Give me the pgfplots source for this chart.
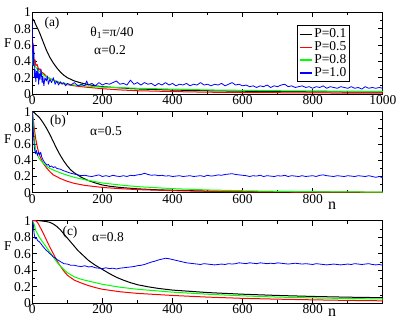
\documentclass[border=0pt]{standalone}
\usepackage{fontspec}
\setmainfont{Liberation Serif}
\usepackage{pgfplots}
\pgfplotsset{compat=1.18}

\definecolor{pgreen}{RGB}{0,255,0}

\pgfplotsset{
  panel/.style={
    scale only axis, width=350.5pt,
    xmin=0, xmax=1000, ymin=0, ymax=1,
    ytick={0,0.2,0.4,0.6,0.8,1},
    minor xtick={100,300,500,700,900},
    minor ytick={0.1,0.3,0.5,0.7,0.9},
    tick align=inside, major tick length=5pt, minor tick length=3pt,
    axis line style={line width=0.9pt},
    every tick/.style={line width=0.7pt, black},
    /pgf/number format/assume math mode=true,
    /pgf/number format/1000 sep={},
    tick label style={font=\fontsize{13.5}{13.5}\selectfont},
    xticklabel style={inner sep=1.5pt},
    yticklabel style={inner sep=1.2pt},
    clip mode=individual,
    every axis plot/.append style={line width=1pt, line join=round},
  },
}
\tikzset{txt/.style={font=\fontsize{13.5}{13.5}\selectfont, inner sep=0pt}}

\begin{document}
\begin{tikzpicture}
\useasboundingbox (0pt,0pt) rectangle (415pt,321pt);

% ---- (a)
\begin{axis}[panel, height=81.5pt, at={(32.3pt,227pt)}, anchor=south west,
  xtick={0,200,400,600,800,1000},
  legend style={at={(0.756,0.846)}, anchor=north west, draw=black, line width=0.7pt,
    fill=white, font=\fontsize{13.5}{13.5}\selectfont, inner sep=1.5pt, row sep=-1.5pt,
    cells={anchor=west}},
  legend image code/.code={\draw[#1, line width=1.2pt] (0pt,0pt) -- (12pt,0pt);},
]
\addplot[black] coordinates {
(0,0.93)(5,0.9)(10,0.85)(20,0.76)(30,0.65)(40,0.54)(50,0.45)(60,0.38)(70,0.32)
(80,0.27)(90,0.23)(100,0.2)(120,0.16)(140,0.135)(160,0.115)(180,0.1)(200,0.09)
(250,0.075)(300,0.062)(400,0.048)(500,0.04)(600,0.034)(700,0.03)(800,0.027)
(900,0.024)(1000,0.022)};
\addplot[red] coordinates {
(0,0.4)(2,0.62)(4,0.45)(6,0.38)(8,0.42)(10,0.35)(14,0.36)(18,0.3)(22,0.31)
(26,0.27)(30,0.26)(35,0.24)(40,0.22)(50,0.19)(60,0.17)(70,0.15)(80,0.135)
(100,0.115)(120,0.1)(150,0.085)(200,0.065)(250,0.05)(300,0.04)(400,0.03)
(500,0.022)(600,0.018)(800,0.013)(1000,0.01)};
\addplot[pgreen] coordinates {
(0,0.35)(2,0.5)(4,0.4)(6,0.34)(10,0.33)(15,0.3)(20,0.28)(30,0.24)(40,0.21)
(50,0.19)(60,0.17)(80,0.14)(100,0.12)(120,0.11)(150,0.1)(200,0.085)(300,0.07)
(400,0.06)(500,0.05)(600,0.045)(700,0.04)(800,0.038)(900,0.035)(1000,0.032)};
\addplot[blue, line width=0.8pt] coordinates {
(0,0.9)(2,0.35)(4,0.6)(6,0.2)(8,0.3)(10,0.15)(12,0.28)(14,0.2)(16,0.32)(18,0.12)
(20,0.25)(22,0.18)(25,0.3)(28,0.14)(30,0.22)(33,0.1)(36,0.2)(40,0.16)(43,0.22)
(46,0.12)(50,0.18)(55,0.14)(60,0.2)(65,0.12)(70,0.16)(75,0.11)(80,0.15)(85,0.12)
(90,0.14)(95,0.1)(100,0.13)(110,0.11)(120,0.14)(130,0.1)(140,0.12)(150,0.1)
(155,0.16)(160,0.11)(170,0.13)(180,0.1)(190,0.14)(200,0.11)(210,0.13)(220,0.12)
(230,0.14)(240,0.16)(250,0.12)(260,0.13)(270,0.11)(280,0.17)(290,0.12)(300,0.14)
(310,0.11)(320,0.14)(330,0.12)(340,0.13)(350,0.1)(360,0.13)(370,0.11)(380,0.14)
(390,0.11)(400,0.13)(410,0.1)(420,0.12)(430,0.11)(440,0.13)(450,0.1)(460,0.12)
(470,0.11)(480,0.14)(490,0.11)(500,0.12)(510,0.1)(520,0.12)(530,0.11)(540,0.13)
(550,0.1)(560,0.12)(570,0.14)(580,0.11)(590,0.12)(600,0.1)(610,0.11)(620,0.09)
(630,0.1)(640,0.08)(650,0.1)(660,0.09)(670,0.11)(680,0.08)(690,0.1)(700,0.09)
(710,0.11)(720,0.12)(730,0.09)(740,0.1)(750,0.08)(760,0.09)(770,0.1)(780,0.08)
(790,0.09)(800,0.07)(810,0.09)(820,0.08)(830,0.1)(840,0.07)(850,0.09)(860,0.08)
(870,0.07)(880,0.09)(890,0.08)(900,0.07)(910,0.09)(920,0.07)(930,0.08)(940,0.06)
(950,0.09)(960,0.07)(970,0.08)(980,0.07)(990,0.08)(1000,0.07)};
\legend{P=0.1,P=0.5,P=0.8,P=1.0}
\end{axis}

% ---- (b)
\begin{axis}[panel, height=81pt, at={(32.3pt,128.3pt)}, anchor=south west,
  xtick={0,200,400,600,800},
]
\addplot[black] coordinates {
(0,1)(5,0.99)(10,0.97)(20,0.93)(30,0.87)(40,0.8)(50,0.72)(60,0.63)(70,0.54)
(80,0.46)(90,0.39)(100,0.33)(110,0.28)(120,0.245)(140,0.19)(160,0.15)(180,0.12)
(200,0.095)(220,0.08)(250,0.065)(300,0.048)(350,0.037)(400,0.03)(500,0.02)
(600,0.013)(700,0.009)(800,0.006)(1000,0.004)};
\addplot[red] coordinates {
(0,1)(3,0.9)(6,0.78)(10,0.66)(15,0.55)(20,0.47)(30,0.37)(40,0.31)(50,0.26)
(60,0.22)(80,0.175)(100,0.14)(120,0.115)(150,0.09)(200,0.065)(250,0.05)
(300,0.038)(400,0.025)(500,0.017)(600,0.012)(800,0.007)(1000,0.005)};
\addplot[pgreen] coordinates {
(0,1)(3,0.85)(6,0.65)(10,0.52)(15,0.46)(20,0.42)(30,0.37)(40,0.33)(50,0.3)
(60,0.28)(80,0.245)(100,0.215)(120,0.19)(150,0.16)(200,0.12)(250,0.095)
(300,0.075)(400,0.05)(500,0.034)(600,0.024)(700,0.017)(800,0.012)(1000,0.007)};
\addplot[blue, line width=0.8pt] coordinates {
(0,1)(3,0.75)(6,0.55)(9,0.48)(12,0.52)(15,0.46)(18,0.5)(21,0.47)(24,0.5)(27,0.44)
(30,0.41)(34,0.38)(38,0.36)(42,0.34)(46,0.35)(50,0.32)(55,0.33)(60,0.31)(65,0.32)
(70,0.3)(80,0.29)(90,0.27)(100,0.255)(110,0.24)(120,0.23)(130,0.22)(140,0.21)
(150,0.215)(160,0.205)(170,0.2)(180,0.21)(190,0.22)(200,0.2)(210,0.21)(220,0.2)
(230,0.215)(240,0.205)(250,0.2)(260,0.21)(270,0.2)(280,0.215)(290,0.21)(300,0.22)
(310,0.225)(320,0.24)(330,0.225)(340,0.215)(350,0.22)(360,0.21)(370,0.215)
(380,0.205)(390,0.21)(400,0.2)(410,0.205)(420,0.21)(430,0.2)(440,0.205)(450,0.21)
(460,0.2)(470,0.205)(480,0.21)(490,0.2)(500,0.215)(510,0.205)(520,0.21)(530,0.22)
(540,0.215)(550,0.225)(560,0.23)(570,0.235)(580,0.225)(590,0.22)(600,0.215)
(610,0.21)(620,0.2)(630,0.21)(640,0.205)(650,0.215)(660,0.2)(670,0.21)(680,0.205)
(690,0.2)(700,0.21)(710,0.205)(720,0.215)(730,0.2)(740,0.21)(750,0.205)(760,0.2)
(770,0.21)(780,0.2)(790,0.205)(800,0.21)(810,0.2)(820,0.215)(830,0.22)(840,0.21)
(850,0.205)(860,0.2)(870,0.21)(880,0.205)(890,0.2)(900,0.21)(910,0.205)(920,0.2)
(930,0.21)(940,0.205)(950,0.2)(960,0.21)(970,0.2)(980,0.19)(990,0.2)(1000,0.185)};
\end{axis}

% ---- (c)
\begin{axis}[panel, height=82.6pt, at={(32.3pt,17.7pt)}, anchor=south west,
  xtick={0,200,400,600,800},
]
\addplot[black] coordinates {
(0,1)(20,1)(40,0.99)(50,0.98)(60,0.96)(70,0.93)(80,0.89)(90,0.84)(100,0.79)
(110,0.74)(120,0.69)(130,0.64)(140,0.6)(150,0.56)(160,0.52)(180,0.46)(200,0.41)
(220,0.36)(240,0.315)(260,0.28)(280,0.25)(300,0.225)(330,0.2)(360,0.18)(400,0.16)
(450,0.145)(500,0.13)(550,0.12)(600,0.11)(700,0.095)(800,0.083)(900,0.074)
(1000,0.068)};
\addplot[red] coordinates {
(0,1)(10,1)(15,0.98)(20,0.94)(30,0.86)(40,0.77)(50,0.68)(60,0.6)(70,0.52)
(80,0.45)(90,0.39)(100,0.34)(120,0.28)(140,0.245)(160,0.215)(180,0.19)(200,0.17)
(250,0.14)(300,0.12)(400,0.095)(500,0.075)(600,0.06)(700,0.05)(800,0.042)
(900,0.035)(1000,0.03)};
\addplot[pgreen] coordinates {
(0,1)(5,0.96)(10,0.88)(15,0.84)(20,0.8)(30,0.74)(40,0.68)(50,0.62)(60,0.56)
(70,0.5)(80,0.45)(90,0.41)(100,0.37)(120,0.32)(140,0.29)(160,0.27)(180,0.25)
(200,0.23)(250,0.195)(300,0.17)(400,0.135)(500,0.11)(600,0.09)(700,0.075)
(800,0.065)(900,0.058)(1000,0.052)};
\addplot[blue, line width=0.8pt] coordinates {
(0,1)(3,0.95)(5,0.85)(8,0.78)(12,0.79)(15,0.76)(20,0.745)(25,0.72)(30,0.69)
(35,0.665)(40,0.64)(45,0.625)(50,0.6)(55,0.585)(60,0.56)(65,0.55)(70,0.53)
(75,0.52)(80,0.505)(90,0.48)(100,0.475)(110,0.46)(120,0.46)(130,0.45)(140,0.445)
(150,0.455)(160,0.44)(170,0.445)(180,0.43)(190,0.425)(200,0.42)(210,0.43)
(220,0.42)(230,0.425)(240,0.415)(250,0.425)(260,0.43)(270,0.435)(280,0.44)
(290,0.445)(300,0.455)(310,0.46)(320,0.47)(330,0.485)(340,0.5)(350,0.51)
(360,0.525)(370,0.535)(380,0.545)(390,0.54)(400,0.53)(410,0.52)(420,0.51)
(430,0.5)(440,0.49)(450,0.485)(460,0.48)(470,0.475)(480,0.47)(490,0.48)(500,0.475)
(510,0.47)(520,0.465)(530,0.47)(540,0.475)(550,0.47)(560,0.48)(570,0.475)
(580,0.48)(590,0.49)(600,0.485)(610,0.48)(620,0.49)(630,0.485)(640,0.48)(650,0.49)
(660,0.485)(670,0.48)(680,0.485)(690,0.48)(700,0.49)(710,0.485)(720,0.48)
(730,0.475)(740,0.48)(750,0.485)(760,0.48)(770,0.475)(780,0.48)(790,0.475)
(800,0.47)(810,0.48)(820,0.475)(830,0.47)(840,0.465)(850,0.47)(860,0.475)
(870,0.47)(880,0.465)(890,0.47)(900,0.475)(910,0.47)(920,0.48)(930,0.475)
(940,0.47)(950,0.475)(960,0.48)(970,0.47)(980,0.465)(990,0.47)(1000,0.46)};
\end{axis}

% ---- text labels, placed in picture pixels (y measured from the bottom)
\node[txt] at (52pt,298pt) {(a)};
\node[txt] at (112pt,288pt) {θ\textsubscript{1}=π/40};
\node[txt] at (110pt,271pt) {α=0.2};
\node[txt] at (8pt,278pt) {F};
\node[txt] at (58pt,200pt) {(b)};
\node[txt] at (106pt,190pt) {α=0.5};
\node[txt] at (8pt,182pt) {F};
\node[font=\fontsize{16}{16}\selectfont] at (332pt,115pt) {n};
\node[txt] at (70pt,89pt) {(c)};
\node[txt] at (108pt,84pt) {α=0.8};
\node[txt] at (8pt,75pt) {F};
\node[font=\fontsize{16}{16}\selectfont] at (332pt,8pt) {n};
\end{tikzpicture}
\end{document}
